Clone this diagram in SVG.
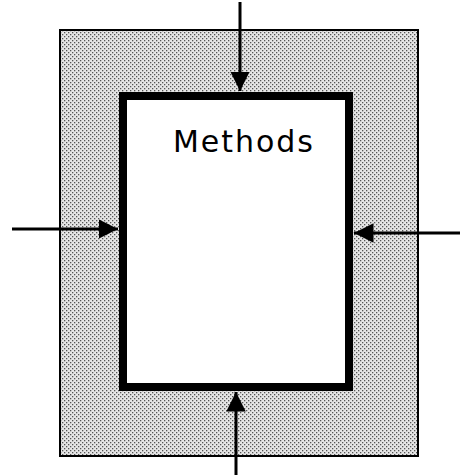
<svg xmlns="http://www.w3.org/2000/svg" width="460" height="475" viewBox="0 0 460 475">
<style>
.conn{stroke:#000;stroke-width:3;fill:none}
.lbl{font-family:"DejaVu Sans","Liberation Sans",sans-serif;font-size:30px;fill:#000}
</style>
<defs>
<pattern id="stip" width="4" height="4" patternUnits="userSpaceOnUse">
<rect width="4" height="4" fill="#e6e6e6"/>
<rect x="0" y="0" width="1.3" height="1.3" fill="#555"/>
<rect x="2" y="2" width="1.3" height="1.3" fill="#555"/>
</pattern>
<marker id="ah" viewBox="0 0 10 10" refX="10" refY="5" markerWidth="6.5" markerHeight="6.5" orient="auto" markerUnits="strokeWidth">
<path d="M0,0 L10,5 L0,10 z" fill="#000"/>
</marker>
</defs>
<g id="outer">
<rect x="60" y="30" width="358" height="426" fill="url(#stip)" stroke="#000" stroke-width="2"/>
</g>
<g id="methods">
<rect x="123" y="96" width="226" height="291" fill="#fff" stroke="#000" stroke-width="8"/>
<text class="lbl" x="173" y="152" textLength="140" lengthAdjust="spacing">Methods</text>
</g>
<g id="connectors">
<line class="conn" x1="240" y1="2" x2="240" y2="91" marker-end="url(#ah)"/>
<line class="conn" x1="236" y1="475" x2="236" y2="392" marker-end="url(#ah)"/>
<line class="conn" x1="12" y1="229" x2="118" y2="229" marker-end="url(#ah)"/>
<line class="conn" x1="460" y1="233" x2="354" y2="233" marker-end="url(#ah)"/>
</g>
</svg>
